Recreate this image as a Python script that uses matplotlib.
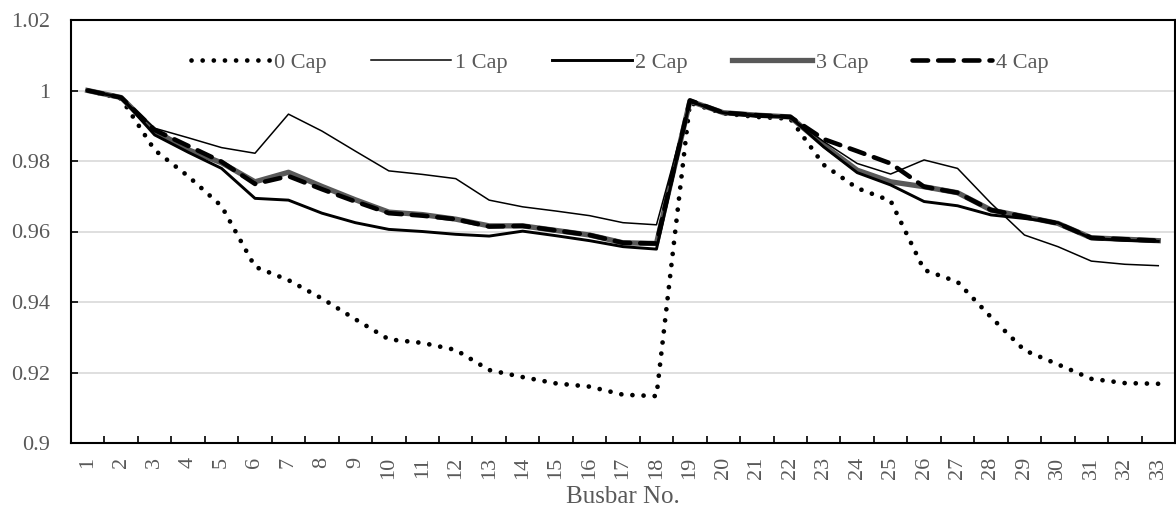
import matplotlib
matplotlib.use("Agg")
import matplotlib.pyplot as plt
import numpy as np

plt.rcParams['font.family'] = ['Liberation Serif', 'DejaVu Serif']

busbars = list(range(1, 34))
tick_labels = [str(b) for b in busbars]

cap0 = [1.000, 0.9977, 0.9831, 0.9757, 0.9672, 0.9500, 0.9462, 0.9410, 0.9351, 0.9294,
        0.9284, 0.9264, 0.9207, 0.9187, 0.9169, 0.9160, 0.9137, 0.9133, 0.9965, 0.9935,
        0.9925, 0.9920, 0.9789, 0.9723, 0.9687, 0.9491, 0.9457, 0.9357, 0.9263, 0.9223,
        0.9182, 0.9170, 0.9168]
cap1 = [1.000, 0.9980, 0.9893, 0.9866, 0.9838, 0.9822, 0.9933, 0.9885, 0.9828, 0.9772,
        0.9762, 0.9750, 0.9689, 0.9670, 0.9658, 0.9645, 0.9625, 0.9619, 0.9968, 0.9935,
        0.9925, 0.9925, 0.9855, 0.9793, 0.9763, 0.9803, 0.9779, 0.9680, 0.9590, 0.9557,
        0.9516, 0.9507, 0.9503]
cap2 = [1.000, 0.9980, 0.9874, 0.9825, 0.9779, 0.9694, 0.9689, 0.9652, 0.9625, 0.9606,
        0.9600, 0.9592, 0.9587, 0.9601, 0.9588, 0.9574, 0.9557, 0.9550, 0.9970, 0.9937,
        0.9930, 0.9925, 0.9840, 0.9767, 0.9732, 0.9685, 0.9673, 0.9647, 0.9637, 0.9625,
        0.9580, 0.9575, 0.9572]
cap3 = [1.000, 0.9980, 0.9886, 0.9832, 0.9795, 0.9741, 0.9768, 0.9728, 0.9690, 0.9655,
        0.9648, 0.9635, 0.9616, 0.9616, 0.9603, 0.9590, 0.9568, 0.9566, 0.9970, 0.9937,
        0.9930, 0.9925, 0.9845, 0.9774, 0.9741, 0.9727, 0.9710, 0.9661, 0.9642, 0.9623,
        0.9582, 0.9578, 0.9574]
cap4 = [1.000, 0.9980, 0.9888, 0.9843, 0.9798, 0.9735, 0.9757, 0.9720, 0.9685, 0.9652,
        0.9645, 0.9635, 0.9614, 0.9616, 0.9603, 0.9590, 0.9568, 0.9566, 0.9972, 0.9937,
        0.9930, 0.9925, 0.9862, 0.9828, 0.9793, 0.9727, 0.9710, 0.9661, 0.9642, 0.9623,
        0.9582, 0.9578, 0.9574]

series_names = ['0 Cap', '1 Cap', '2 Cap', '3 Cap', '4 Cap']
y_ticks = [0.9, 0.92, 0.94, 0.96, 0.98, 1.0, 1.02]
y_tick_labels = ['0.9', '0.92', '0.94', '0.96', '0.98', '1', '1.02']

gray = '#595959'
fig = plt.figure(figsize=(11.76, 5.08), dpi=100)
ax = fig.add_axes([71/1176, 65/508, 1104/1176, 423/508])

x = np.array(busbars)
ax.plot(x, cap0, color='black', lw=3.4, linestyle=(0, (0.01, 2.35)),
        dash_capstyle='round', label=series_names[0], zorder=3)
ax.plot(x, cap1, color='black', lw=1.1, label=series_names[1], zorder=4)
ax.plot(x, cap2, color='black', lw=2.1, label=series_names[2], zorder=4)
ax.plot(x, cap3, color=gray, lw=3.8, label=series_names[3], zorder=3)
ax.plot(x, cap4, color='black', lw=3.3, linestyle=(0, (3.4, 2.2)),
        dash_capstyle='round', label=series_names[4], zorder=5)

ax.set_xlim(0.5, 33.5)
ax.set_ylim(0.9, 1.02)
ax.set_yticks(y_ticks)
ax.set_yticklabels(y_tick_labels)
ax.set_xticks(x)
ax.set_xticklabels(tick_labels, rotation=90)
ax.set_xticks(np.arange(1.5, 33.5, 1.0), minor=True)

ax.tick_params(axis='x', which='major', length=0, labelsize=16, labelcolor=gray, pad=10)
ax.tick_params(axis='x', which='minor', direction='in', length=5, width=1.2, color='black')
ax.tick_params(axis='y', which='major', direction='in', length=5, width=1.2,
               labelsize=16, labelcolor=gray, pad=15)

ax.grid(axis='y', color='#d9d9d9', lw=1.2, zorder=0)
ax.set_axisbelow(True)
for s in ax.spines.values():
    s.set_linewidth(1.5)
    s.set_color('black')

ax.set_xlabel('Busbar No.', fontsize=18, color=gray, labelpad=5)

leg = ax.legend(loc='center', bbox_to_anchor=(0.497, 0.90), ncol=5, frameon=False,
                fontsize=16, handlelength=3.6, handletextpad=0.15, columnspacing=2.0)
for t in leg.get_texts():
    t.set_color(gray)

fig.savefig('out.png', dpi=100)
